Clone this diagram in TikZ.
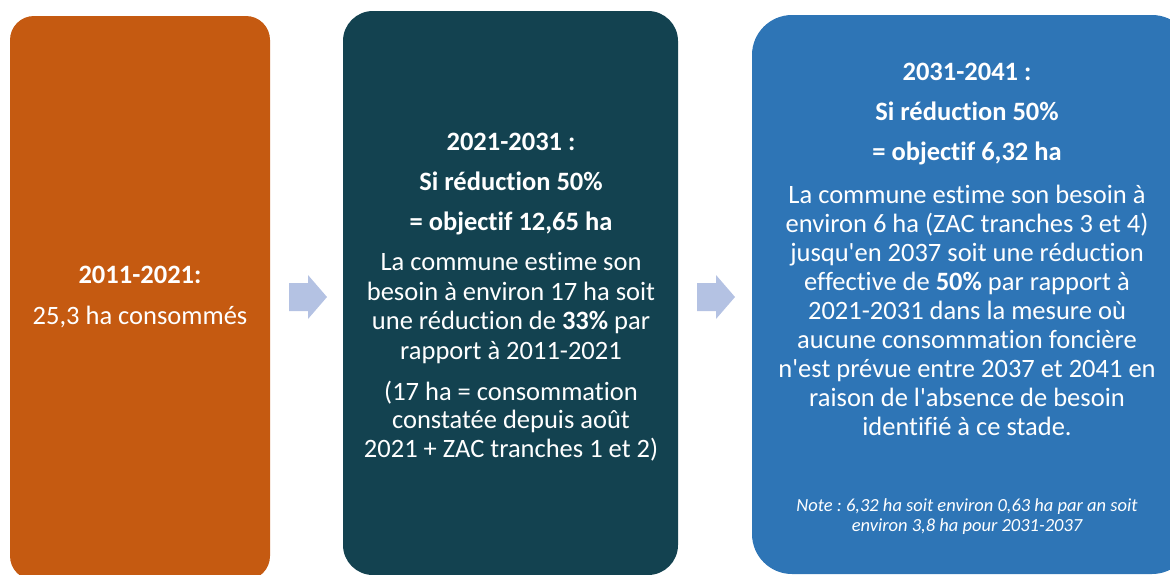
\documentclass[tikz,border=0pt]{standalone}
\usepackage{fontspec}
\setmainfont{Carlito}[Ligatures={TeXOff,CommonOff}]
\usepackage{xcolor}
\definecolor{BurntOrange}{HTML}{C55A11}
\definecolor{DeepTeal}{HTML}{134250}
\definecolor{SteelBlue}{HTML}{2E75B6}
\definecolor{Periwinkle}{HTML}{B4C2E3}
\frenchspacing

\tikzset{
  phase/.style={rectangle, inner sep=0pt},
  headtext/.style={text=white, align=center, inner sep=0pt, anchor=base,
                   font=\fontsize{26.5}{40}\selectfont\bfseries},
  bodytext/.style={text=white, align=center, inner sep=0pt, anchor=base,
                   font=\fontsize{26.5}{29}\selectfont},
  notetext/.style={text=white, align=center, inner sep=0pt, anchor=base,
                   font=\fontsize{18.5}{20.5}\selectfont\itshape},
}

\begin{document}
\begin{tikzpicture}[x=1pt, y=-1pt]
    \useasboundingbox (0,0) rectangle (1170,574);
    \clip (0,0) rectangle (1170,574);

    % the three periods
    \node[phase, fill=BurntOrange, rounded corners=24pt,
          minimum width=260pt, minimum height=564pt] (past) at (140,298) {};
    \node[phase, fill=DeepTeal, rounded corners=30pt,
          minimum width=335pt, minimum height=564pt] (current) at (510.5,293) {};
    \node[phase, fill=SteelBlue, rounded corners=40pt,
          minimum width=440pt, minimum height=559pt] (future) at (972,294.5) {};

    % block arrows between the periods
    \foreach \x in {289,697}
      \fill[Periwinkle] (\x,283) -- (\x+19,283) -- (\x+19,275) -- (\x+38,297)
        -- (\x+19,319) -- (\x+19,311) -- (\x,311) -- cycle;

    % 2011-2021 (nodes sit on the baseline of their last line)
    \node[headtext] (past-head) at (140,283) {2011-2021:};
    \node[bodytext] (past-body) at (140,324) {25,3 ha consommés};

    % 2021-2031
    \node[headtext] (current-head) at (511,230)
      {2021-2031 :\\ Si réduction 50\%\\ = objectif 12,65 ha};
    \node[bodytext, font=\fontsize{26.5}{29.5}\selectfont] (current-body) at (511,359)
      {La commune estime son\\ besoin à environ 17 ha soit\\
       une réduction de \textbf{33\%} par\\ rapport à 2011-2021};
    \node[bodytext, font=\fontsize{26.5}{28.5}\selectfont] (current-note) at (511,457)
      {(17 ha = consommation\\ constatée depuis août\\ 2021 + ZAC tranches 1 et 2)};

    % 2031-2041
    \node[headtext] (future-head) at (967,160)
      {2031-2041 :\\ Si réduction 50\%\\ = objectif 6,32 ha};
    \node[bodytext] (future-body) at (967,435)
      {La commune estime son besoin à\\ environ 6 ha (ZAC tranches 3 et 4)\\
       jusqu'en 2037 soit une réduction\\ effective de \textbf{50\%} par rapport à\\
       2021-2031 dans la mesure où\\ aucune consommation foncière\\
       n'est prévue entre 2037 et 2041 en\\ raison de l'absence de besoin\\
       identifié à ce stade.};
    \node[notetext] (future-note) at (967,531.5)
      {Note : 6,32 ha soit environ 0,63 ha par an soit\\ environ 3,8 ha pour 2031-2037};
\end{tikzpicture}
\end{document}
